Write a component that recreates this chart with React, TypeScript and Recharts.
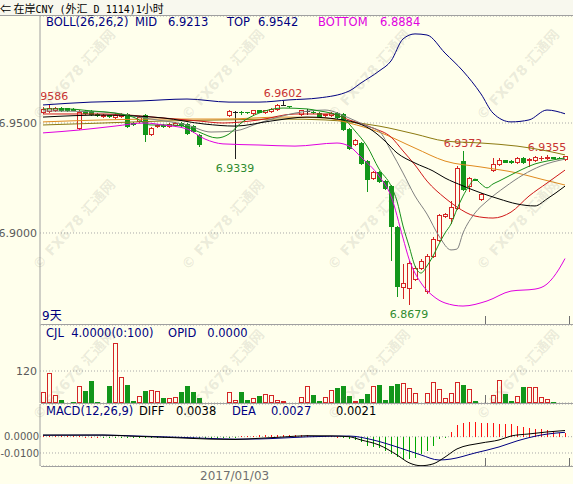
import React from 'react';
import { ComposedChart, Bar, Line, XAxis, YAxis, CartesianGrid } from 'recharts';

const BG = '#FFFFEC';
const UP = '#D42525';
const DOWN = '#12961A';
const DOJI = '#202020';
const AXIS = '#A0A0A0';
const FONT = 'DejaVu Sans, sans-serif';

// hourly candles (null = nothing drawn in that slot)
const open = [
  6.9550, 6.9555, 6.9559, 6.9568, 6.9568, 6.9564, 6.9477, 6.9555, 6.9555, 6.9541,
  6.9532, 6.9536, 6.9527, 6.9532, 6.9541, 6.9500, 6.9509, 6.9536, 6.9450, 6.9486,
  6.9491, 6.9486, 6.9491, 6.9500, 6.9495, 6.9486, 6.9445, null, null, null,
  null, 6.9536, 6.9552, 6.9552, 6.9550, 6.9545, 6.9557, 6.9548, 6.9555, 6.9564,
  6.9584, 6.9577, null, 6.9541, 6.9555, 6.9552, 6.9545, 6.9536, 6.9536, 6.9545,
  6.9541, 6.9473, 6.9405, 6.9409, 6.9327, 6.9250, 6.9277, 6.9236, 6.9214, 6.9027,
  6.8755, 6.8750, 6.8791, 6.8841, 6.8736, 6.8895, 6.8968, 6.9077, 6.9068, 6.9114,
  6.9327, 6.9214, 6.9245, 6.9155, null, 6.9286, 6.9314, 6.9330, 6.9327, 6.9323,
  6.9341, 6.9332, 6.9332, 6.9339, 6.9341, 6.9345, 6.9343, 6.9336,
];
const high = [
  6.9573, 6.9586, 6.9573, 6.9573, 6.9570, 6.9566, 6.9559, 6.9557, 6.9557, 6.9545,
  6.9541, 6.9538, 6.9545, 6.9545, 6.9545, 6.9505, 6.9532, 6.9541, 6.9482, 6.9495,
  6.9495, 6.9500, 6.9505, 6.9505, 6.9500, 6.9491, 6.9450, null, null, null,
  null, 6.9559, 6.9555, 6.9555, 6.9552, 6.9561, 6.9559, 6.9561, 6.9566, 6.9586,
  6.9602, 6.9579, null, 6.9561, 6.9564, 6.9555, 6.9548, 6.9543, 6.9548, 6.9548,
  6.9545, 6.9477, 6.9427, 6.9414, 6.9332, 6.9282, 6.9282, 6.9241, 6.9218, 6.9032,
  6.8859, 6.8873, 6.8850, 6.8880, 6.8905, 6.8980, 6.9086, 6.9091, 6.9145, 6.9305,
  6.9372, 6.9255, 6.9247, 6.9182, null, 6.9341, 6.9341, 6.9334, 6.9330, 6.9345,
  6.9345, 6.9341, 6.9350, 6.9350, 6.9355, 6.9347, 6.9345, 6.9352,
];
const low = [
  6.9545, 6.9550, 6.9555, 6.9555, 6.9555, 6.9557, 6.9473, 6.9543, 6.9536, 6.9532,
  6.9527, 6.9527, 6.9523, 6.9527, 6.9482, 6.9491, 6.9505, 6.9418, 6.9445, 6.9482,
  6.9482, 6.9482, 6.9486, 6.9486, 6.9450, 6.9459, 6.9395, null, null, null,
  null, 6.9532, 6.9339, 6.9543, 6.9545, 6.9541, 6.9550, 6.9545, 6.9552, 6.9559,
  6.9580, 6.9575, null, 6.9538, 6.9541, 6.9545, 6.9530, 6.9532, 6.9532, 6.9523,
  6.9468, 6.9382, 6.9400, 6.9314, 6.9191, 6.9245, 6.9232, 6.9200, 6.8877, 6.8714,
  6.8705, 6.8679, 6.8786, 6.8836, 6.8727, 6.8890, 6.8964, 6.9073, 6.9045, 6.9109,
  6.9195, 6.9191, 6.9239, 6.9150, null, 6.9282, 6.9309, 6.9323, 6.9320, 6.9318,
  6.9318, 6.9305, 6.9327, 6.9334, 6.9336, 6.9339, 6.9339, 6.9334,
];
const close = [
  6.9564, 6.9568, 6.9568, 6.9559, 6.9559, 6.9559, 6.9550, 6.9545, 6.9541, 6.9536,
  6.9536, 6.9530, 6.9536, 6.9541, 6.9486, 6.9495, 6.9527, 6.9450, 6.9477, 6.9491,
  6.9486, 6.9495, 6.9500, 6.9491, 6.9455, 6.9464, 6.9405, null, null, null,
  null, 6.9555, 6.9552, 6.9548, 6.9548, 6.9559, 6.9552, 6.9559, 6.9564, 6.9582,
  6.9584, 6.9576, null, 6.9559, 6.9555, 6.9548, 6.9532, 6.9541, 6.9545, 6.9527,
  6.9473, 6.9386, 6.9423, 6.9318, 6.9245, 6.9277, 6.9236, 6.9205, 6.9032, 6.8759,
  6.8773, 6.8864, 6.8841, 6.8873, 6.8895, 6.8973, 6.9082, 6.9086, 6.9118, 6.9295,
  6.9200, 6.9250, 6.9241, 6.9177, null, 6.9314, 6.9332, 6.9325, 6.9323, 6.9341,
  6.9323, 6.9336, 6.9345, 6.9343, 6.9345, 6.9341, 6.9341, 6.9350,
];
const volume = [
  40, 111, 30, 11, 0, 5, 64, 46, 83, 5,
  5, 64, 224, 96, 67, 6, 26, 46, 49, 45,
  20, 18, 24, 42, 64, 40, 20, 0, 0, 0,
  0, 40, 11, 40, 11, 17, 26, 32, 30, 11,
  8, 0, 0, 21, 64, 30, 8, 21, 49, 57,
  64, 26, 8, 15, 32, 64, 67, 11, 64, 71,
  74, 55, 36, 3, 36, 77, 52, 18, 36, 77,
  67, 52, 8, 3, 0, 30, 86, 32, 8, 26,
  60, 60, 60, 21, 15, 4, 0, 4,
];
const macdBar = [
  0.0004, 0.0004, 0.0003, 0.0003, 0.0002, 0.0002, 0.0002, 0.0001, 0.0001, 0.0000,
  -0.0001, -0.0002, -0.0002, -0.0001, -0.0003, -0.0003, -0.0003, -0.0004, -0.0005, -0.0005,
  -0.0005, -0.0005, -0.0004, -0.0005, -0.0006, -0.0007, -0.0008, -0.0008, -0.0007, -0.0006,
  -0.0005, -0.0003, -0.0001, 0.0002, 0.0004, 0.0006, 0.0008, 0.0009, 0.0010, 0.0011,
  0.0012, 0.0011, 0.0010, 0.0009, 0.0008, 0.0007, 0.0006, 0.0004, 0.0003, 0.0001,
  -0.0003, -0.0012, -0.0020, -0.0035, -0.0055, -0.0062, -0.0068, -0.0085, -0.0105, -0.0125,
  -0.0135, -0.0137, -0.0128, -0.0105, -0.0085, -0.0060, -0.0012, -0.0003, 0.0030, 0.0072,
  0.0085, 0.0088, 0.0090, 0.0085, 0.0082, 0.0082, 0.0080, 0.0078, 0.0075, 0.0065,
  0.0062, 0.0055, 0.0050, 0.0045, 0.0040, 0.0035, 0.0025, 0.0021,
];

// line readings: [bar index, value]
const bollTop = [[0, 6.9582], [8, 6.9595], [16, 6.96], [24, 6.9609], [31, 6.9595], [36, 6.9595], [41, 6.9605], [46, 6.9614], [51, 6.9645], [53, 6.9682], [56, 6.9736], [58, 6.9782], [60, 6.9882], [62, 6.9905], [64, 6.99], [67, 6.9818], [70, 6.9736], [73, 6.9632], [75, 6.9545], [78, 6.9505], [81, 6.9514], [84, 6.9559], [87, 6.9542]];
const bollBottom = [[0, 6.9455], [6, 6.9468], [12, 6.9486], [17, 6.95], [20, 6.9491], [24, 6.9473], [27, 6.9427], [30, 6.9405], [36, 6.94], [42, 6.9395], [49, 6.9409], [51, 6.9395], [53, 6.9345], [56, 6.9259], [58, 6.9168], [60, 6.8977], [61, 6.8882], [63, 6.8773], [65, 6.8714], [67, 6.8682], [70, 6.8668], [74, 6.8691], [78, 6.8736], [82, 6.8745], [84, 6.8768], [86, 6.8836], [87, 6.8884]];
const bollMid = [[0, 6.9527], [10, 6.9536], [20, 6.9523], [27, 6.9495], [32, 6.9486], [38, 6.9509], [44, 6.9527], [50, 6.9514], [55, 6.9464], [57, 6.9418], [59, 6.9364], [62, 6.9318], [65, 6.9282], [67, 6.925], [70, 6.9214], [73, 6.9182], [76, 6.9155], [79, 6.9132], [82, 6.9123], [84, 6.9155], [87, 6.9213]];
const ma5 = [[0, 6.9564], [4, 6.9564], [8, 6.9555], [12, 6.9545], [15, 6.9527], [18, 6.9491], [21, 6.9491], [24, 6.9482], [26, 6.9459], [29, 6.9432], [31, 6.945], [33, 6.95], [36, 6.9545], [40, 6.9568], [44, 6.9564], [46, 6.9555], [48, 6.9545], [50, 6.9523], [52, 6.9464], [54, 6.9395], [56, 6.9291], [58, 6.9214], [59, 6.9145], [60, 6.9032], [61, 6.8941], [62, 6.885], [63, 6.8818], [64, 6.885], [65, 6.8895], [66, 6.895], [67, 6.9], [68, 6.9041], [69, 6.9109], [70, 6.9168], [71, 6.9214], [72, 6.9245], [73, 6.9223], [74, 6.9205], [75, 6.9223], [76, 6.9236], [78, 6.9264], [80, 6.9291], [82, 6.9314], [84, 6.9327], [87, 6.9341]];
const ma10 = [[0, 6.9555], [10, 6.955], [18, 6.9518], [24, 6.9491], [28, 6.9459], [32, 6.9464], [36, 6.95], [42, 6.9545], [47, 6.9559], [51, 6.9523], [54, 6.9486], [56, 6.9464], [58, 6.9373], [60, 6.9273], [62, 6.9168], [64, 6.9086], [66, 6.8986], [68, 6.8923], [69, 6.8927], [70, 6.9], [72, 6.9091], [74, 6.9145], [77, 6.9209], [80, 6.9264], [83, 6.9305], [87, 6.9336]];
const ma20 = [[0, 6.9541], [10, 6.9541], [20, 6.9523], [26, 6.9509], [30, 6.95], [36, 6.9514], [42, 6.9541], [48, 6.9541], [51, 6.9514], [55, 6.9477], [58, 6.9436], [60, 6.9373], [62, 6.9309], [64, 6.9236], [67, 6.9159], [69, 6.9118], [72, 6.9077], [75, 6.9068], [78, 6.9095], [81, 6.9168], [84, 6.9227], [87, 6.9286]];
const ma60 = [[0, 6.9505], [10, 6.9514], [20, 6.9518], [30, 6.9518], [40, 6.9527], [47, 6.9523], [51, 6.95], [56, 6.9459], [62, 6.9386], [67, 6.9327], [73, 6.93], [79, 6.9273], [83, 6.9245], [87, 6.9218]];
const ma120 = [[0, 6.9491], [10, 6.95], [20, 6.9509], [30, 6.9514], [40, 6.9518], [47, 6.9514], [51, 6.9505], [56, 6.9486], [62, 6.945], [67, 6.9418], [73, 6.9409], [79, 6.9395], [84, 6.9373], [87, 6.9355]];
const diff = [[0, 0.001], [10, 0.001], [15, 0.0003], [22, -0.0006], [28, -0.0015], [32, -0.0017], [36, -0.001], [40, -0.0002], [44, 0.0006], [48, 0.0005], [51, 0.0], [53, -0.002], [56, -0.0051], [59, -0.0112], [61, -0.016], [63, -0.0178], [65, -0.0167], [67, -0.0125], [69, -0.0075], [73, -0.0039], [76, -0.002], [78, 0.0004], [81, 0.0017], [84, 0.0029], [87, 0.0038]];
const dea = [[0, 0.0009], [10, 0.001], [15, 0.0005], [22, -0.0003], [28, -0.0011], [32, -0.0015], [36, -0.0014], [40, -0.0008], [44, -0.0001], [48, 0.0003], [51, 0.0004], [55, -0.002], [59, -0.0063], [63, -0.0112], [66, -0.0143], [68, -0.0137], [72, -0.01], [76, -0.0063], [79, -0.0026], [83, 0.001], [87, 0.0027]];

// highs / lows marked with their price
const marks = [[1, 'hi'], [32, 'lo'], [40, 'hi'], [61, 'lo'], [70, 'hi'], [84, 'hi']];

const toMap = (pairs: number[][]) => {
  const m: Record<number, number> = {};
  pairs.forEach(([i, v]) => { m[i] = v; });
  return m;
};
const lines = {
  top: toMap(bollTop), bot: toMap(bollBottom), mid: toMap(bollMid),
  ma5: toMap(ma5), ma10: toMap(ma10), ma20: toMap(ma20), ma60: toMap(ma60), ma120: toMap(ma120),
  diff: toMap(diff), dea: toMap(dea),
};
const markMap: Record<number, string> = {};
marks.forEach(([i, k]) => { markMap[i as number] = k as string; });

const rows = Array.from({ length: 89 }, (_, i) => {
  const o = open[i] ?? null;
  const row: any = {
    i,
    o, h: high[i] ?? null, l: low[i] ?? null, c: close[i] ?? null,
    range: o != null ? [low[i], high[i]] : null,
    up: o != null ? close[i]! >= o : true,
    doji: o != null && close[i] === o,
    vol: volume[i] ? volume[i] : null,
    hist: macdBar[i] ?? null,
    mark: markMap[i],
  };
  Object.entries(lines).forEach(([k, m]) => { row[k] = m[i] ?? null; });
  return row;
});

function Candle(props: any) {
  const { x, y, width, height, payload } = props;
  if (!payload || payload.o == null) return null;
  const bx = x + width / 2;
  const wx = Math.floor(bx) + 0.5;
  const top = Math.min(y, y + height);
  const bot = Math.max(y, y + height);
  const span = payload.h - payload.l;
  const py = (v: number) => (span > 0 ? top + ((payload.h - v) / span) * (bot - top) : top);
  const yo = py(payload.o);
  const yc = py(payload.c);
  const b0 = Math.round(Math.min(yo, yc));
  const b1 = Math.round(Math.max(yo, yc));
  const color = payload.doji ? DOJI : payload.up ? UP : DOWN;
  let label = null;
  if (payload.mark === 'hi') {
    label = (
      <text x={bx} y={top - 4} textAnchor="middle" fill="#C83232" fontSize={11} fontFamily={FONT} clipPath="url(#plotArea)">
        {payload.h.toFixed(4)}
      </text>
    );
  } else if (payload.mark === 'lo') {
    label = (
      <text x={bx} y={bot + 14} textAnchor="middle" fill="#2E8B2E" fontSize={11} fontFamily={FONT} clipPath="url(#plotArea)">
        {payload.l.toFixed(4)}
      </text>
    );
  }
  return (
    <g>
      <line x1={wx} x2={wx} y1={Math.round(top)} y2={Math.round(bot) + 1} stroke={color} strokeWidth={1} />
      {b1 - b0 < 1 ? (
        <line x1={Math.floor(bx) - 2} x2={Math.floor(bx) + 3} y1={b0 + 0.5} y2={b0 + 0.5} stroke={color} />
      ) : payload.up ? (
        <rect x={Math.floor(bx) - 1.5} y={b0 + 0.5} width={4} height={b1 - b0} fill={BG} stroke={color} strokeWidth={1} />
      ) : (
        <rect x={Math.floor(bx) - 2} y={b0} width={5} height={b1 - b0 + 1} fill={color} />
      )}
      {label}
    </g>
  );
}

function VolBar(props: any) {
  const { x, y, width, height, payload } = props;
  if (!payload || !payload.vol) return null;
  const bx = Math.floor(x + width / 2);
  const top = Math.round(Math.min(y, y + height));
  const bot = Math.round(Math.max(y, y + height));
  if (payload.up) {
    return <rect x={bx - 1.5} y={top + 0.5} width={4} height={Math.max(bot - top - 1, 0)} fill={BG} stroke={UP} />;
  }
  return <rect x={bx - 2} y={top} width={5} height={bot - top} fill={DOWN} />;
}

function MacdBar(props: any) {
  const { x, y, width, height, payload } = props;
  if (!payload || payload.hist == null) return null;
  const bx = Math.floor(x + width / 2);
  const top = Math.round(Math.min(y, y + height));
  const bot = Math.round(Math.max(y, y + height));
  return <rect x={bx} y={top} width={1} height={Math.max(bot - top, 1)} fill={payload.hist >= 0 ? '#FF1010' : '#00A800'} shapeRendering="crispEdges" />;
}

const tickStyle = { fill: '#5A5A5A', fontSize: 11, fontFamily: FONT };
const yAxisCommon = {
  width: 40,
  tickLine: false,
  axisLine: { stroke: AXIS },
  tickSize: 0,
  tickMargin: 3,
  tick: tickStyle,
  allowDataOverflow: true,
  interval: 0 as const,
  type: 'number' as const,
};

const txt = (left: number, top: number, color: string, s: string, size = 11.5, family = FONT) => (
  <div style={{ position: 'absolute', left, top, color, fontSize: size, fontFamily: family, whiteSpace: 'pre', lineHeight: '14px' }}>{s}</div>
);

const hline = (top: number, left = 0) => (
  <div style={{ position: 'absolute', left, top, width: 573 - left, height: 1, background: AXIS }} />
);
const vtick = (left: number, top: number) => (
  <div style={{ position: 'absolute', left, top, width: 1, height: 8, background: '#707070' }} />
);

const wmarks = [[73, 72], [222, 72], [368, 72], [517, 72], [73, 222], [222, 222], [368, 222], [517, 222], [73, 372], [222, 372], [368, 372], [517, 372]];

const cjk = { fontFamily: 'Noto Sans CJK SC', fontSize: 11 };
const mono = { fontFamily: 'DejaVu Sans Mono', fontSize: 10 };

export default function App() {
  return (
    <div style={{ position: 'absolute', left: 0, top: 0, width: 573, height: 484, background: BG, overflow: 'hidden' }}>
      {/* title bar */}
      <div style={{ position: 'absolute', left: 0, top: 0, width: 573, height: 15, background: '#F8F8EE' }} />
      {hline(15)}
      <div style={{ position: 'absolute', left: 0, top: 0, whiteSpace: 'pre', color: '#000', display: 'flex', alignItems: 'baseline' }}>
        <span style={cjk}>⇐ </span>
        <span style={cjk}>在岸</span>
        <span style={mono}>CNY (</span>
        <span style={cjk}>外汇</span>
        <span style={mono}>_D 1114)1</span>
        <span style={cjk}>小时</span>
      </div>

      <div style={{ position: 'absolute', left: 0, top: 16 }}>
        <ComposedChart width={574} height={309} data={rows} margin={{ top: 0, right: 0, bottom: 0, left: 0 }}>
          <defs>
            <clipPath id="plotArea">
              <rect x={41} y={0} width={540} height={309} />
            </clipPath>
          </defs>
          <XAxis dataKey="i" hide />
          <YAxis {...yAxisCommon} domain={[6.85818, 6.99864]} ticks={[6.95, 6.9]} tickFormatter={(v: number) => v.toFixed(4)} />
          <CartesianGrid vertical={false} stroke="#A8A8A8" strokeDasharray="1 2" />
          <Line dataKey="ma120" stroke="#8C7A10" dot={false} connectNulls type="monotone" isAnimationActive={false} strokeWidth={1} />
          <Line dataKey="ma60" stroke="#E08A1E" dot={false} connectNulls type="monotone" isAnimationActive={false} strokeWidth={1} />
          <Line dataKey="ma20" stroke="#D01818" dot={false} connectNulls type="monotone" isAnimationActive={false} strokeWidth={1} />
          <Line dataKey="ma10" stroke="#808080" dot={false} connectNulls type="monotone" isAnimationActive={false} strokeWidth={1} />
          <Line dataKey="mid" stroke="#000000" dot={false} connectNulls type="monotone" isAnimationActive={false} strokeWidth={1} />
          <Line dataKey="ma5" stroke="#17901A" dot={false} connectNulls type="monotone" isAnimationActive={false} strokeWidth={1} />
          <Line dataKey="top" stroke="#000080" dot={false} connectNulls type="monotone" isAnimationActive={false} strokeWidth={1} />
          <Line dataKey="bot" stroke="#E000E0" dot={false} connectNulls type="monotone" isAnimationActive={false} strokeWidth={1} />
          <Bar dataKey="range" shape={<Candle />} isAnimationActive={false} />
        </ComposedChart>
      </div>
      {txt(46, 15, '#000080', 'BOLL(26,26,2)')}
      {txt(135, 15, '#000080', 'MID')}
      {txt(168, 15, '#000080', '6.9213')}
      {txt(227, 15, '#000080', 'TOP')}
      {txt(258, 15, '#000080', '6.9542')}
      {txt(318, 15, '#E000E0', 'BOTTOM')}
      {txt(380, 15, '#E000E0', '6.8884')}
      {txt(42, 309, '#000080', '9天', 12, 'DejaVu Sans, Noto Sans CJK SC')}
      {hline(324, 41)}
      {vtick(485, 316)}
      {vtick(569, 316)}

      <div style={{ position: 'absolute', left: 0, top: 325 }}>
        <ComposedChart width={574} height={78} data={rows} margin={{ top: 0, right: 0, bottom: 0, left: 0 }}>
          <XAxis dataKey="i" hide />
          <YAxis {...yAxisCommon} domain={[0, 292.5]} ticks={[120]} />
          <CartesianGrid vertical={false} stroke="#A8A8A8" strokeDasharray="1 2" />
          <Bar dataKey="vol" shape={<VolBar />} isAnimationActive={false} />
        </ComposedChart>
      </div>
      {txt(46, 326, '#000080', 'CJL  4.0000(0:100)    OPID   0.0000')}
      {hline(403, 41)}
      {vtick(485, 395)}

      <div style={{ position: 'absolute', left: 0, top: 404 }}>
        <ComposedChart width={574} height={62} data={rows} margin={{ top: 0, right: 0, bottom: 0, left: 0 }}>
          <XAxis dataKey="i" hide />
          <YAxis {...yAxisCommon} tickMargin={1} tick={{ ...tickStyle, fontSize: 10 }} domain={[-0.01798, 0.02006]} ticks={[0, -0.01]} tickFormatter={(v: number) => v.toFixed(4)} />
          <CartesianGrid vertical={false} stroke="#A8A8A8" strokeDasharray="1 2" />
          <Bar dataKey="hist" shape={<MacdBar />} isAnimationActive={false} />
          <Line dataKey="dea" stroke="#000080" dot={false} connectNulls type="monotone" isAnimationActive={false} strokeWidth={1} />
          <Line dataKey="diff" stroke="#000000" dot={false} connectNulls type="monotone" isAnimationActive={false} strokeWidth={1} />
        </ComposedChart>
      </div>
      {txt(46, 404, '#000080', 'MACD(12,26,9)')}
      {txt(139, 404, '#000000', 'DIFF')}
      {txt(176, 404, '#000000', '0.0038')}
      {txt(232, 404, '#000080', 'DEA')}
      {txt(271, 404, '#000080', '0.0027')}
      {txt(336, 404, '#000000', '0.0021')}
      {hline(466, 41)}
      {vtick(485, 458)}
      {vtick(569, 458)}
      {txt(200, 469, '#707070', '2017/01/03', 12)}

      {wmarks.map(([cx, cy], k) => (
        <div key={k} style={{ position: 'absolute', left: cx - 60, top: cy - 8, width: 120, textAlign: 'center', transform: 'rotate(-48deg)', color: 'rgba(110,110,100,0.14)', fontSize: 14, fontWeight: 'bold', fontFamily: 'DejaVu Sans, Noto Sans CJK SC', whiteSpace: 'pre', pointerEvents: 'none' }}>
          © FX678 汇通网
        </div>
      ))}
    </div>
  );
}
